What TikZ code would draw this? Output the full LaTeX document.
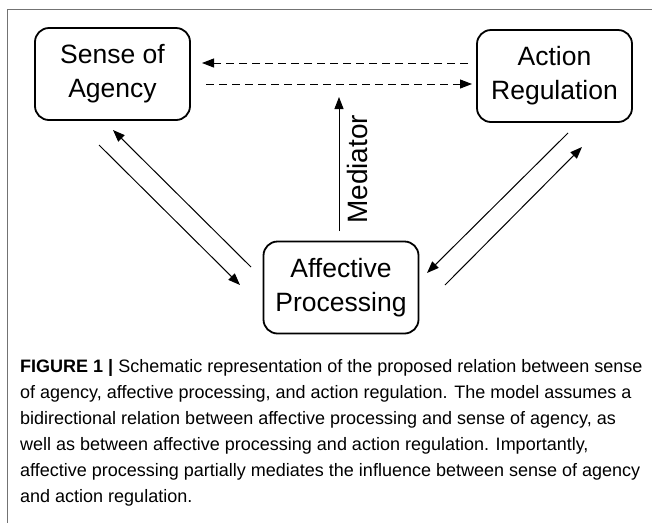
\documentclass[tikz,border=0pt]{standalone}
\usepackage{fontspec}
\setmainfont{Liberation Sans}
\usetikzlibrary{arrows.meta}

\tikzset{
  box/.style={draw, line width=1.8pt, rounded corners=14pt, minimum width=155pt,
    minimum height=92pt, align=center, inner sep=0pt,
    font=\fontsize{26.5}{34}\selectfont},
  link/.style={line width=1pt, -{Triangle[length=12pt,width=9pt]}},
  dashlink/.style={link, dash pattern=on 8pt off 5pt},
}

\begin{document}
\begin{tikzpicture}[x=1pt,y=-1pt]
    \useasboundingbox (0,0) rectangle (652,523);
    \draw [black!55, line width=1pt] (652,9) -- (7,9) -- (7,523);

    \node [box] (agency) at (112.5,74) {Sense of\\Agency};
    \node [box] (action) at (554.5,76) {Action\\Regulation};
    \node [box] (affect) at (341,287.5) {Affective\\Processing};

    \coordinate (top-r) at (468,63);
    \coordinate (top-l) at (202,63);
    \coordinate (bot-l) at (206,84);
    \coordinate (bot-r) at (472,84);
    \coordinate (med-s) at (339,231);
    \coordinate (med-t) at (339,97);

    \draw [dashlink] (top-r) -- (top-l);
    \draw [dashlink] (bot-l) -- (bot-r);
    \draw [link] (med-s) -- (med-t)
      node [pos=0.46, sloped, below=4pt, font=\fontsize{28}{32}\selectfont] (mediator) {Mediator};

    \foreach \a/\b in {{99,145}/{240,285}, {251,267}/{113,130},
                       {568,133}/{427,273}, {445,285}/{582,147}}
      \draw [link] (\a) -- (\b);

    \node [anchor=north west, align=left, inner sep=0pt,
           font=\fontsize{18}{26}\selectfont] (caption) at (20,359)
      {\textbf{FIGURE 1 |} Schematic representation of the proposed relation between sense\\
       of agency, affective processing, and action regulation. The model assumes a\\
       bidirectional relation between affective processing and sense of agency, as\\
       well as between affective processing and action regulation. Importantly,\\
       affective processing partially mediates the influence between sense of agency\\
       and action regulation.};
\end{tikzpicture}
\end{document}
